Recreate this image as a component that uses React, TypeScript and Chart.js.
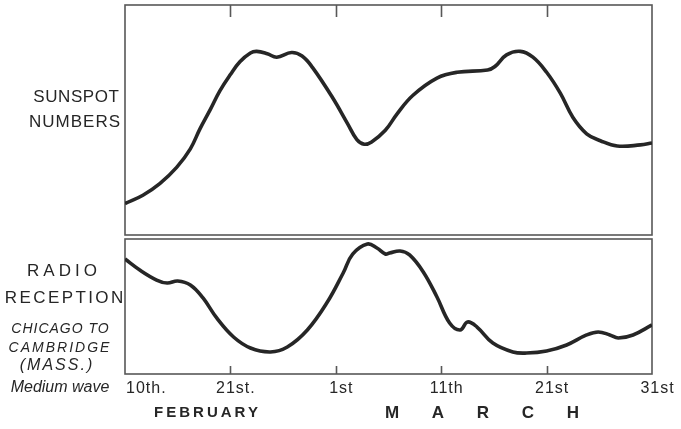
import React, { useEffect, useRef } from "react";
import { Chart, registerables } from "chart.js";

Chart.register(...registerables);

// Horizontal position: 10 units between each labelled date tick
const tickValues = [0, 10, 20, 30, 40, 50];
const tickLabels = ["10th.", "21st.", "1st", "11th", "21st", "31st"];
const febLabel = "FEBRUARY";
const marchLabel = "M A R C H";

// Sunspot numbers (relative units, 0–100)
const sunspotX = [0, 1.7, 3.3, 4.9, 6.2, 7.1, 8.1, 9.0, 10.0, 10.9, 11.9, 12.5, 13.5, 14.4, 15.8, 16.8, 17.8, 19.7, 21.1, 22.0, 22.7, 23.4, 24.7, 25.8, 27.3, 29.6, 31.5, 34.4, 35.1, 36.2, 37.5, 38.7, 40.0, 41.3, 42.5, 43.8, 45.1, 46.7, 48.9, 50];
const sunspotY = [14.4, 18, 23, 30, 38, 46.5, 55, 63, 70, 75.5, 79.3, 80, 79, 77.5, 79.5, 78, 73, 60, 49, 42, 40, 41, 46, 53, 61, 68.5, 71, 72, 73.5, 78.5, 80, 77.5, 71, 62, 51.5, 44.5, 41.5, 39.2, 39.7, 40.5];

// Radio reception, Chicago to Cambridge (relative units, 0–100)
const radioX = [0, 1.4, 3.0, 4.0, 5.0, 6.2, 7.4, 8.7, 10.3, 11.9, 13.8, 15.4, 17.3, 19.2, 20.7, 21.6, 23.0, 23.9, 24.7, 25.1, 26.1, 27.0, 28.3, 29.6, 30.8, 31.8, 32.5, 33.4, 34.9, 36.8, 38.1, 40.0, 41.9, 43.8, 44.9, 46.0, 46.8, 48.2, 50];
const radioY = [83.9, 75.9, 68.6, 66.4, 67.9, 65.0, 55.5, 40.9, 27.0, 19.0, 16.1, 19.7, 32.1, 52.5, 73.7, 87.5, 94.9, 92.0, 87.6, 88.3, 89.8, 86.9, 74.5, 56.2, 37.2, 32.1, 38.0, 34.3, 22.6, 16.1, 15.3, 16.8, 21.2, 28.5, 30.7, 28.5, 26.3, 28.5, 35.8];

const sunspotData = sunspotX.map((x, i) => ({ x, y: sunspotY[i] }));
const radioData = radioX.map((x, i) => ({ x, y: radioY[i] }));

const INK = "#262626";
const FRAME = "#585858";

function drawText(
  ctx: CanvasRenderingContext2D,
  text: string,
  x: number,
  y: number,
  font: string,
  align: CanvasTextAlign,
  spacing: number
) {
  ctx.font = font;
  (ctx as any).letterSpacing = spacing + "px";
  ctx.textAlign = align;
  ctx.textBaseline = "middle";
  let dx = 0;
  if (align === "center") dx = spacing / 2;
  if (align === "right") dx = spacing;
  ctx.fillText(text, x + dx, y);
}

const framePlugin = {
  id: "frame",
  beforeDatasetsDraw(chart: any) {
    const ctx: CanvasRenderingContext2D = chart.ctx;
    const xs = chart.scales.x;
    const top = chart.scales.ySun;
    const bot = chart.scales.yRadio;
    const L = chart.chartArea.left;
    const R = chart.chartArea.right;
    ctx.save();
    ctx.strokeStyle = FRAME;
    ctx.lineWidth = 1.6;
    ctx.strokeRect(L, top.top, R - L, top.bottom - 2 - top.top);
    ctx.strokeRect(L, bot.top + 2, R - L, bot.bottom - bot.top - 2);
    ctx.beginPath();
    tickValues.slice(1, -1).forEach((v) => {
      const px = Math.round(xs.getPixelForValue(v)) + 0.5;
      ctx.moveTo(px, top.top);
      ctx.lineTo(px, top.top + 12);
      ctx.moveTo(px, bot.bottom);
      ctx.lineTo(px, bot.bottom - 8);
    });
    ctx.stroke();
    ctx.restore();
  },
  afterDraw(chart: any) {
    const ctx: CanvasRenderingContext2D = chart.ctx;
    const xs = chart.scales.x;
    const L = chart.chartArea.left;
    const B = chart.chartArea.bottom;
    const sans = "'Liberation Sans', Arial, sans-serif";
    ctx.save();
    ctx.fillStyle = INK;

    // left-hand captions
    drawText(ctx, "SUNSPOT", L - 6, 97, `17px ${sans}`, "right", 0.6);
    drawText(ctx, "NUMBERS", L - 5, 122, `17px ${sans}`, "right", 1);
    drawText(ctx, "RADIO", 62, 271, `17px ${sans}`, "center", 4);
    drawText(ctx, "RECEPTION", 64, 298, `17px ${sans}`, "center", 2.4);
    drawText(ctx, "CHICAGO TO", 60, 329, `italic 14px ${sans}`, "center", 1);
    drawText(ctx, "CAMBRIDGE", 59, 348, `italic 14px ${sans}`, "center", 2);
    drawText(ctx, "(MASS.)", 56, 366, `italic 16px ${sans}`, "center", 2);
    drawText(ctx, "Medium wave", 60, 388, `italic 16px ${sans}`, "center", 0);

    // date tick labels
    tickValues.forEach((v, i) => {
      const px = xs.getPixelForValue(v);
      if (i === 0) {
        drawText(ctx, tickLabels[i], px + 1, B + 15, `16px ${sans}`, "left", 1);
      } else {
        drawText(ctx, tickLabels[i], px + 5, B + 15, `16px ${sans}`, "center", 1);
      }
    });

    // month names
    drawText(ctx, febLabel, 206, B + 39, `bold 15px ${sans}`, "center", 3);
    drawText(ctx, marchLabel, 482, B + 39, `bold 17px ${sans}`, "center", 14);
    ctx.restore();
  },
};

export default function App() {
  const ref = useRef<HTMLCanvasElement | null>(null);

  useEffect(() => {
    if (!ref.current) return;
    const chart = new Chart(ref.current, {
      type: "line",
      data: {
        datasets: [
          {
            label: "Sunspot numbers",
            data: sunspotData,
            yAxisID: "ySun",
            borderColor: INK,
            borderWidth: 3.6,
            pointRadius: 0,
            tension: 0.4,
            fill: false,
          },
          {
            label: "Radio reception",
            data: radioData,
            yAxisID: "yRadio",
            borderColor: INK,
            borderWidth: 3.6,
            pointRadius: 0,
            tension: 0.4,
            fill: false,
          },
        ],
      },
      options: {
        responsive: false,
        animation: false,
        devicePixelRatio: 1,
        layout: { padding: { left: 125, right: 29, top: 5, bottom: 55 } },
        plugins: {
          legend: { display: false },
          tooltip: { enabled: false },
          title: { display: false },
        },
        scales: {
          x: {
            type: "linear",
            min: 0,
            max: 50,
            display: false,
          },
          ySun: {
            type: "linear",
            axis: "y",
            position: "left",
            stack: "panels",
            stackWeight: 232,
            weight: 1,
            min: 0,
            max: 100,
            display: false,
          },
          yRadio: {
            type: "linear",
            axis: "y",
            position: "left",
            stack: "panels",
            stackWeight: 137,
            weight: 0,
            min: 0,
            max: 100,
            display: false,
          },
        } as any,
      },
      plugins: [framePlugin],
    } as any);
    return () => chart.destroy();
  }, []);

  return (
    <div style={{ position: "fixed", left: 0, top: 0, width: 681, height: 429, background: "#fff" }}>
      <canvas ref={ref} width={681} height={429} style={{ display: "block" }} />
    </div>
  );
}
